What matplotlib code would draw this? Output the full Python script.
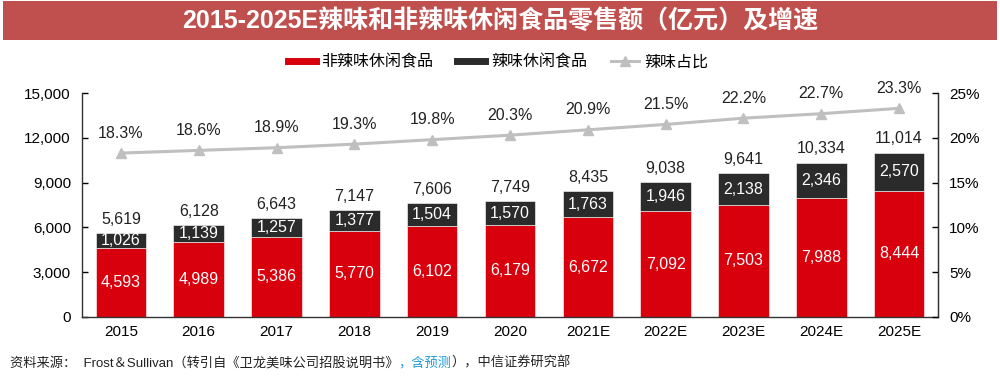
import matplotlib
matplotlib.use("Agg")
import matplotlib.pyplot as plt
from matplotlib.patches import Rectangle
from matplotlib.lines import Line2D

plt.rcParams['font.family'] = ['Liberation Sans', 'Noto Sans CJK SC', 'DejaVu Sans']

years = ["2015", "2016", "2017", "2018", "2019", "2020", "2021E", "2022E", "2023E", "2024E", "2025E"]
non_spicy = [4593, 4989, 5386, 5770, 6102, 6179, 6672, 7092, 7503, 7988, 8444]
spicy = [1026, 1139, 1257, 1377, 1504, 1570, 1763, 1946, 2138, 2346, 2570]
totals = [5619, 6128, 6643, 7147, 7606, 7749, 8435, 9038, 9641, 10334, 11014]
share = [18.3, 18.6, 18.9, 19.3, 19.8, 20.3, 20.9, 21.5, 22.2, 22.7, 23.3]
yticks_left = [0, 3000, 6000, 9000, 12000, 15000]
yticks_right = [0, 5, 10, 15, 20, 25]

RED = "#D9000D"
DARK = "#2B2B2B"
GRAY = "#BFBFBF"

fig = plt.figure(figsize=(10, 3.8), dpi=100)
ax = fig.add_axes([0.082, 0.166, 0.856, 0.589])
x = list(range(len(years)))
w = 0.65
ax.bar(x, non_spicy, width=w, color=RED, edgecolor="white", linewidth=0.4)
ax.bar(x, spicy, width=w, bottom=non_spicy, color=DARK, edgecolor="white", linewidth=0.4)
ax.set_xlim(-0.5, len(years) - 0.5)
ax.set_ylim(0, 15000)
ax.set_yticks(yticks_left)
ax.set_yticklabels([f"{v:,}" for v in yticks_left], fontsize=11)
ax.set_xticks(x)
ax.set_xticklabels(years, fontsize=11)
ax.tick_params(axis='y', direction='in', length=4, width=1, pad=8)
ax.tick_params(axis='x', length=0, pad=6)
ax.spines['top'].set_visible(False)
for s in ['left', 'right', 'bottom']:
    ax.spines[s].set_color('#333333')
    ax.spines[s].set_linewidth(1.0)

for i in x:
    ax.text(i, non_spicy[i] / 2, f"{non_spicy[i]:,}", ha='center', va='center', color='white', fontsize=11.5)
    ax.text(i, non_spicy[i] + spicy[i] / 2, f"{spicy[i]:,}", ha='center', va='center', color='white', fontsize=11.5)
    ax.text(i, totals[i] + 420, f"{totals[i]:,}", ha='center', va='bottom', color='#222222', fontsize=11.5)

ax2 = ax.twinx()
ax2.set_ylim(0, 25)
ax2.plot(x, share, color=GRAY, linewidth=2.2, marker='^', markersize=6.5, markeredgecolor=GRAY)
ax2.set_yticks(yticks_right)
ax2.set_yticklabels([f"{v}%" for v in yticks_right], fontsize=11)
ax2.tick_params(axis='y', direction='in', length=4, width=1, pad=8)
ax2.spines['top'].set_visible(False)
ax2.spines['right'].set_color('#333333')
ax2.spines['left'].set_visible(False)
ax2.spines['bottom'].set_visible(False)
for i in x:
    ax2.text(i, share[i] + 1.4, f"{share[i]}%", ha='center', va='bottom', color='#222222', fontsize=11.5)

# legend
handles = [Line2D([], [], color=RED, linewidth=5),
           Line2D([], [], color=DARK, linewidth=5),
           Line2D([], [], color=GRAY, linewidth=2.2, marker='^', markersize=6.5)]
labels = ["非辣味休闲食品", "辣味休闲食品", "辣味占比"]
fig.legend(handles, labels, loc='center', bbox_to_anchor=(0.498, 0.837), ncol=3, frameon=False,
           fontsize=11.5, handlelength=1.75, columnspacing=1.5, handletextpad=0.35)

# title bar
fig.patches.append(Rectangle((0.003, 0.895), 0.994, 0.102, transform=fig.transFigure,
                             facecolor="#C0504D", edgecolor='none'))
fig.text(0.5, 0.946, "2015-2025E辣味和非辣味休闲食品零售额（亿元）及增速", ha='center', va='center',
         color='white', fontsize=18, fontweight='bold')

# footer
parts = [("资料来源：  Frost＆Sullivan（转引自《卫龙美味公司招股说明书》", '#222222'),
         ("，含预测", '#1E9BD7'),
         ("），中信证券研究部", '#222222')]
fig.canvas.draw()
r = fig.canvas.get_renderer()
xpos = 0.01
for txt, col in parts:
    t = fig.text(xpos, 0.045, txt, ha='left', va='center', color=col, fontsize=9.5)
    bb = t.get_window_extent(renderer=r)
    xpos += bb.width / fig.bbox.width

fig.savefig("out.png", dpi=100)
